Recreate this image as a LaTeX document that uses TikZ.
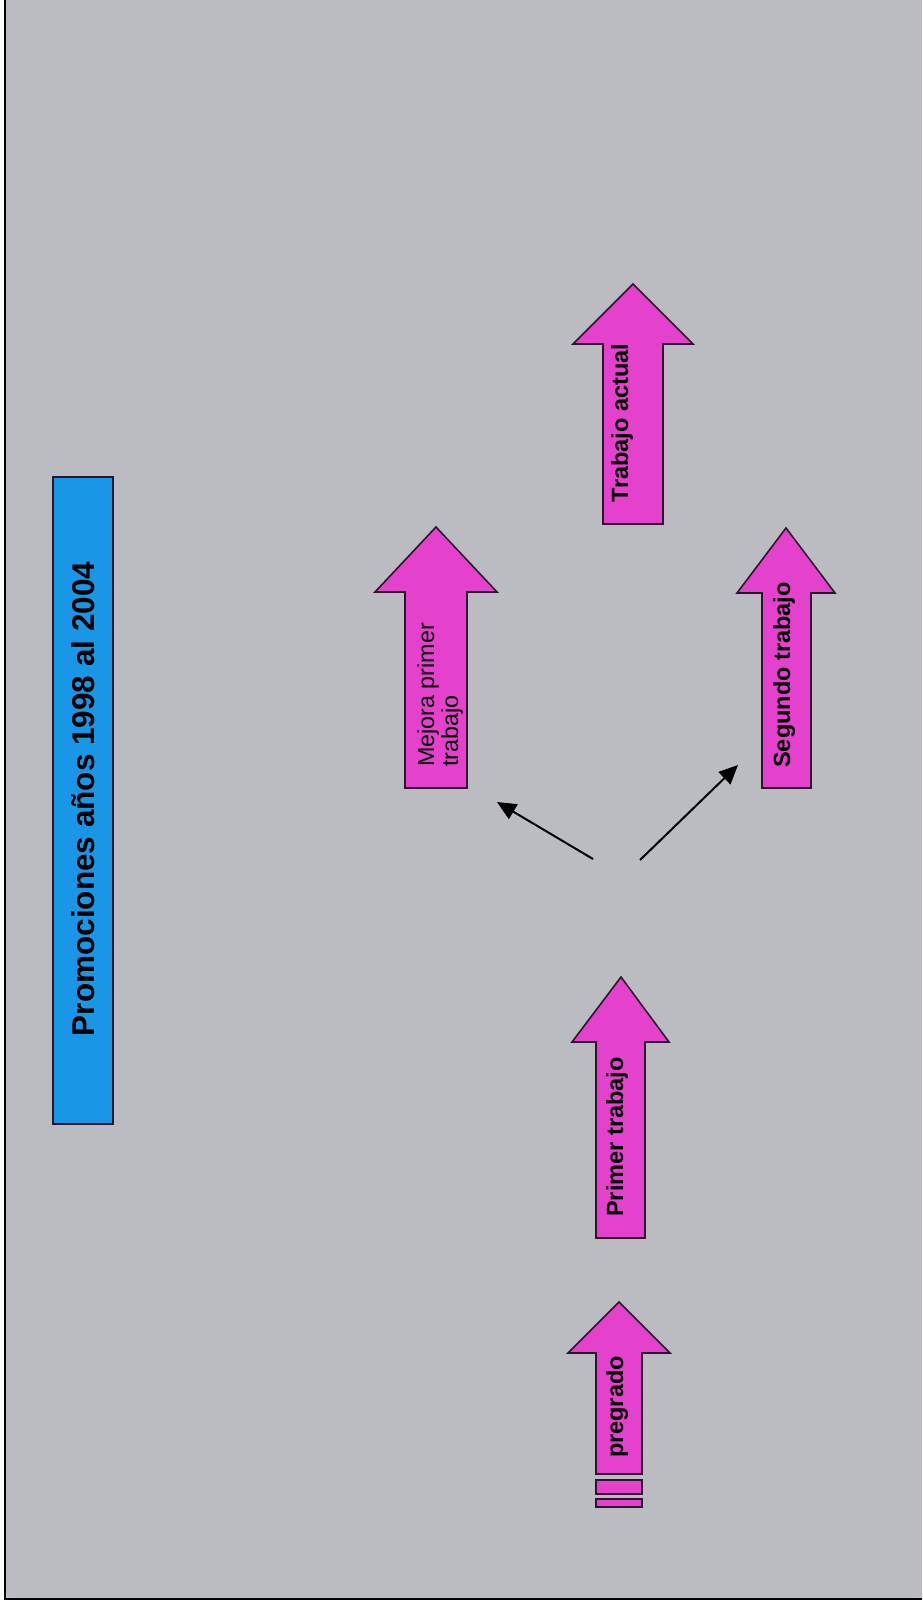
\documentclass[tikz,border=0pt]{standalone}
\usepackage{fontspec}
\setmainfont{Liberation Sans}
\usetikzlibrary{arrows.meta}

\definecolor{paper}{RGB}{187,188,193}
\definecolor{pinkfill}{RGB}{228,66,204}
\definecolor{bluefill}{RGB}{26,150,230}
\definecolor{edge}{RGB}{45,20,45}

\tikzset{
  blockarrow/.style={fill=pinkfill, draw=edge, line width=1.6pt, line join=miter},
  arrowlabel/.style={rotate=90, inner sep=0pt, font=\fontsize{23.5}{24}\selectfont\bfseries},
  arrowlabelthin/.style={rotate=90, inner sep=0pt, align=left, font=\fontsize{23.3}{24}\selectfont},
  titlebox/.style={fill=bluefill, draw=edge, line width=1.6pt},
  titlelabel/.style={rotate=90, inner sep=0pt, font=\fontsize{31.5}{33}\selectfont\bfseries},
  thinarrow/.style={line width=2pt, -{Triangle[length=19pt,width=17pt]}}
}

\begin{document}
\begin{tikzpicture}[x=1pt,y=-1pt]
  \useasboundingbox (0,0) rectangle (922,1605);
  % sheet
  \fill[white] (0,0) rectangle (922,1605);
  \fill[paper] (5,0) rectangle (922,1599);
  \draw[line width=2pt] (5,0) -- (5,1599) -- (922,1599);

  % title bar
  \draw[titlebox] (53,477) rectangle (113,1124);
  \node[titlelabel] (title) at (83,799) {Promociones años 1998 al 2004};

  % striped arrow: pregrado
  \draw[blockarrow] (619,1302) -- (670,1353) -- (642,1353) -- (642,1474)
        -- (596,1474) -- (596,1353) -- (568,1353) -- cycle;
  \draw[blockarrow] (596,1480) rectangle (642,1494);
  \draw[blockarrow] (596,1499) rectangle (642,1507);
  \node[arrowlabel] (pregrado) at (617,1407) {pregrado};

  % primer trabajo
  \draw[blockarrow] (621,977) -- (669,1042) -- (645,1042) -- (645,1238)
        -- (596,1238) -- (596,1042) -- (572,1042) -- cycle;
  \node[arrowlabel] (primer) at (617,1137) {Primer trabajo};

  % mejora primer trabajo
  \draw[blockarrow] (436,527) -- (497,592) -- (467,592) -- (467,788)
        -- (405,788) -- (405,592) -- (375,592) -- cycle;
  \node[arrowlabelthin, anchor=west] (mejora) at (440,767) {Mejora primer\\trabajo};

  % segundo trabajo
  \draw[blockarrow] (786,528) -- (835,593) -- (811,593) -- (811,788)
        -- (762,788) -- (762,593) -- (737,593) -- cycle;
  \node[arrowlabel] (segundo) at (784,675) {Segundo trabajo};

  % trabajo actual
  \draw[blockarrow] (633,284) -- (693,344) -- (663,344) -- (663,524)
        -- (603,524) -- (603,344) -- (573,344) -- cycle;
  \node[arrowlabel] (actual) at (622,423) {Trabajo actual};

  % branching after the first job
  \coordinate (forkL) at (593,859);
  \coordinate (forkR) at (640,860);
  \coordinate (toMejora) at (497,802);
  \coordinate (toSegundo) at (738,765);
  \draw[thinarrow] (forkL) -- (toMejora);
  \draw[thinarrow] (forkR) -- (toSegundo);
\end{tikzpicture}
\end{document}
